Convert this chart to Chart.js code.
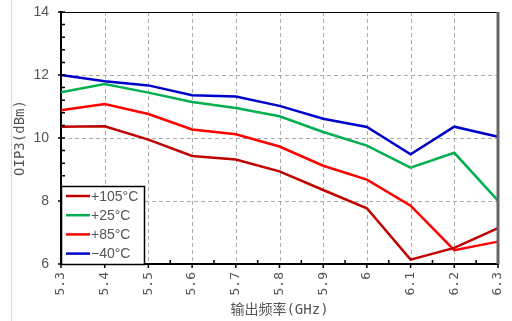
<!DOCTYPE html>
<html>
<head>
<meta charset="utf-8">
<script src="https://cdn.jsdelivr.net/npm/chart.js@4"></script>
<style>
  html, body { margin: 0; padding: 0; background: #fff; }
  #board { display: block; }
</style>
</head>
<body>
<canvas id="board" width="512" height="321"></canvas>
<script>
// datos
const freqs = ["5.3", "5.4", "5.5", "5.6", "5.7", "5.8", "5.9", "6", "6.1", "6.2", "6.3"];
const seriesNames = ["+105°C", "+25°C", "+85°C", "−40°C"];
const seriesColors = ["#c00000", "#00b050", "#ff0000", "#0000cc"];
const t105 = [10.36, 10.37, 9.95, 9.43, 9.32, 8.94, 8.35, 7.77, 6.14, 6.51, 7.14];
const t25 = [11.45, 11.71, 11.44, 11.14, 10.95, 10.69, 10.19, 9.76, 9.06, 9.53, 8.01];
const t85 = [10.88, 11.08, 10.76, 10.27, 10.12, 9.73, 9.12, 8.68, 7.85, 6.44, 6.71];
const tm40 = [12.0, 11.8, 11.67, 11.36, 11.32, 11.02, 10.61, 10.35, 9.48, 10.36, 10.04];
const yTicks = [6, 8, 10, 12, 14];

const txtColor = "#555";
const fontFam = "'Liberation Sans', 'Noto Sans CJK SC', sans-serif";
const monoFam = "'DejaVu Sans Mono', 'Noto Sans CJK SC', monospace";

let canv = document.getElementById("board");

// rejilla punteada, ticks menores, bordes y leyenda dentro del grafico
const extras = {
  id: "extras",
  beforeDraw(chart) {
    let ctx = chart.ctx;
    ctx.save();
    ctx.strokeStyle = "#d9d9d9";
    ctx.lineWidth = 1;
    ctx.beginPath();
    ctx.moveTo(11.5, 0);
    ctx.lineTo(11.5, 321);
    ctx.stroke();
    ctx.restore();
  },
  beforeDatasetsDraw(chart) {
    let ctx = chart.ctx;
    let a = chart.chartArea;
    let xs = chart.scales.x;
    let ys = chart.scales.y;
    ctx.save();
    ctx.strokeStyle = "#aaa";
    ctx.lineWidth = 1;
    ctx.setLineDash([4, 3]);
    ctx.beginPath();
    for (let i = 1; i < freqs.length - 1; i++) {
      let px = Math.round(xs.getPixelForValue(i)) + 0.5;
      ctx.moveTo(px, a.top);
      ctx.lineTo(px, a.bottom);
    }
    yTicks.slice(1, -1).forEach(v => {
      let py = Math.round(ys.getPixelForValue(v)) + 0.5;
      ctx.moveTo(a.left, py);
      ctx.lineTo(a.right, py);
    });
    ctx.stroke();
    ctx.restore();
  },
  afterDraw(chart) {
    let ctx = chart.ctx;
    let a = chart.chartArea;
    let xs = chart.scales.x;
    let ys = chart.scales.y;
    ctx.save();
    // borde superior y derecho
    ctx.strokeStyle = "#000";
    ctx.lineWidth = 1;
    ctx.beginPath();
    ctx.moveTo(a.left, a.top + 0.5);
    ctx.lineTo(a.right, a.top + 0.5);
    ctx.stroke();
    ctx.strokeStyle = "#666";
    ctx.lineWidth = 3;
    ctx.beginPath();
    ctx.moveTo(a.right, a.top);
    ctx.lineTo(a.right, a.bottom);
    ctx.stroke();

    ctx.strokeStyle = "#000";
    ctx.lineWidth = 1.5;
    ctx.beginPath();
    for (let i = 0; i < freqs.length; i++) {
      let px = xs.getPixelForValue(i);
      ctx.moveTo(px, a.bottom);
      ctx.lineTo(px, a.bottom + 4);
      if (i < freqs.length - 1) {
        let mx = xs.getPixelForValue(i + 0.5);
        ctx.moveTo(mx, a.bottom);
        ctx.lineTo(mx, a.bottom - 4);
      }
    }
    for (let v = 6; v <= 14.001; v += 0.4) {
      let py = ys.getPixelForValue(v);
      let major = Math.abs(v - Math.round(v)) < 0.01 && Math.round(v) % 2 === 0;
      ctx.moveTo(a.left - (major ? 3 : 0), py);
      ctx.lineTo(a.left + 4, py);
    }
    ctx.stroke();

    // leyenda
    let lx = a.left, ly = 186, lw = 83, lh = a.bottom - 186;
    ctx.fillStyle = "#fff";
    ctx.fillRect(lx, ly, lw, lh);
    ctx.strokeStyle = "#000";
    ctx.lineWidth = 1.5;
    ctx.strokeRect(lx + 0.5, ly + 0.5, lw, lh);
    ctx.font = "14px " + fontFam;
    ctx.textBaseline = "middle";
    chart.data.datasets.forEach((ds, i) => {
      let yy = 196 + i * 19.2;
      ctx.strokeStyle = ds.borderColor;
      ctx.lineWidth = 2.5;
      ctx.beginPath();
      ctx.moveTo(lx + 5, yy);
      ctx.lineTo(lx + 29, yy);
      ctx.stroke();
      ctx.fillStyle = txtColor;
      ctx.fillText(ds.label, lx + 30, yy + 1);
    });
    ctx.restore();
  }
};

let chart = new Chart(canv, {
  type: "line",
  data: {
    labels: freqs,
    datasets: [t105, t25, t85, tm40].map((d, i) => ({
      label: seriesNames[i],
      data: d,
      borderColor: seriesColors[i],
      backgroundColor: seriesColors[i],
      borderWidth: 2.5,
      pointRadius: 0,
      tension: 0,
      fill: false
    }))
  },
  options: {
    responsive: false,
    animation: false,
    layout: { padding: { left: 0, top: 12, right: 14, bottom: 0 } },
    plugins: { legend: { display: false }, tooltip: { enabled: false } },
    scales: {
      x: {
        offset: false,
        grid: { display: false, drawTicks: false },
        border: { color: "#000", width: 2 },
        ticks: {
          color: txtColor, font: { size: 13, family: monoFam },
          minRotation: 90, maxRotation: 90, autoSkip: false, padding: 8
        },
        title: {
          display: true, text: "输出频率(GHz)", color: txtColor,
          font: { size: 14, family: monoFam }, padding: { top: 0, bottom: 2 }
        },
        afterFit(s) {
          s.height = 57;
          s.paddingLeft = 0; s.paddingRight = 0;
        }
      },
      y: {
        min: 6, max: 14,
        afterBuildTicks(s) { s.ticks = yTicks.map(v => ({ value: v })); },
        grid: { display: false, drawTicks: false },
        border: { color: "#000", width: 2 },
        ticks: { color: txtColor, font: { size: 14, family: fontFam }, padding: 12 },
        title: {
          display: true, text: "OIP3(dBm)", color: txtColor,
          font: { size: 14, family: monoFam }, padding: { top: 12, bottom: 0 }
        },
        afterFit(s) {
          s.width = 61;
          s.paddingTop = 0; s.paddingBottom = 0;
        }
      }
    }
  },
  plugins: [extras]
});
</script>
</body>
</html>
